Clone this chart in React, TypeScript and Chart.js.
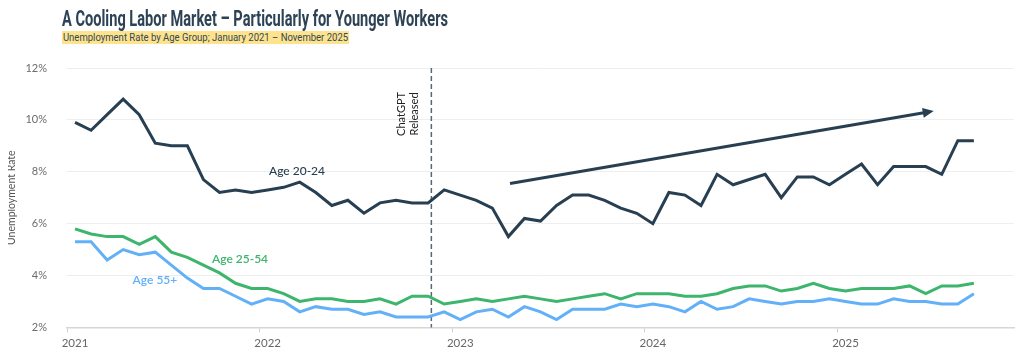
import React, { useEffect, useLayoutEffect, useRef } from 'react';
import { Chart, registerables } from 'chart.js';

Chart.register(...registerables);

// ---------- DATA ----------
const yearLabels = ['2021', '2022', '2023', '2024', '2025'];
const monthNames = ['Jan', 'Feb', 'Mar', 'Apr', 'May', 'Jun', 'Jul', 'Aug', 'Sep', 'Oct', 'Nov', 'Dec'];
// January 2021 – November 2025
const categories = yearLabels.flatMap((y) => monthNames.map((m) => `${m} ${y}`)).slice(0, 59);

const age2024 = [
  9.9, 9.6, 10.2, 10.8, 10.2, 9.1, 9.0, 9.0, 7.7, 7.2,
  7.3, 7.2, 7.3, 7.4, 7.6, 7.2, 6.7, 6.9, 6.4, 6.8,
  6.9, 6.8, 6.8, 7.3, 7.1, 6.9, 6.6, 5.5, 6.2, 6.1,
  6.7, 7.1, 7.1, 6.9, 6.6, 6.4, 6.0, 7.2, 7.1, 6.7,
  7.9, 7.5, 7.7, 7.9, 7.0, 7.8, 7.8, 7.5, 7.9, 8.3,
  7.5, 8.2, 8.2, 8.2, 7.9, 9.2, 9.2,
];
const age2554 = [
  5.8, 5.6, 5.5, 5.5, 5.2, 5.5, 4.9, 4.7, 4.4, 4.1,
  3.7, 3.5, 3.5, 3.3, 3.0, 3.1, 3.1, 3.0, 3.0, 3.1,
  2.9, 3.2, 3.2, 2.9, 3.0, 3.1, 3.0, 3.1, 3.2, 3.1,
  3.0, 3.1, 3.2, 3.3, 3.1, 3.3, 3.3, 3.3, 3.2, 3.2,
  3.3, 3.5, 3.6, 3.6, 3.4, 3.5, 3.7, 3.5, 3.4, 3.5,
  3.5, 3.5, 3.6, 3.3, 3.6, 3.6, 3.7,
];
const age55 = [
  5.3, 5.3, 4.6, 5.0, 4.8, 4.9, 4.4, 3.9, 3.5, 3.5,
  3.2, 2.9, 3.1, 3.0, 2.6, 2.8, 2.7, 2.7, 2.5, 2.6,
  2.4, 2.4, 2.4, 2.6, 2.3, 2.6, 2.7, 2.4, 2.8, 2.6,
  2.3, 2.7, 2.7, 2.7, 2.9, 2.8, 2.9, 2.8, 2.6, 3.0,
  2.7, 2.8, 3.1, 3.0, 2.9, 3.0, 3.0, 3.1, 3.0, 2.9,
  2.9, 3.1, 3.0, 3.0, 2.9, 2.9, 3.3,
];

const yMin = 2;
const yMax = 12;
const yStep = 2;

// annotation anchors (category index / percent)
const chatgptMarkX = 22.2;
const chatgptText = ['ChatGPT', 'Released'];
const chatgptTextAt = { x: 20.75, y: 10.23 };
const trendArrow = { x0: 27.1, y0: 7.55, x1: 53.5, y1: 10.34 };
const seriesNames = ['Age 20-24', 'Age 25-54', 'Age 55+'];
const seriesLabelAt = [
  { x: 13.83, y: 8.04 },
  { x: 10.28, y: 4.65 },
  { x: 4.98, y: 3.81 },
];

// ---------- STYLE ----------
const NAVY = '#283f52';
const GREEN = '#3db56c';
const BLUE = '#62b0f8';
const FONT = "Lato, 'Noto Sans', sans-serif";

const annotationPlugin = {
  id: 'customAnnotations',
  beforeDatasetsDraw(chart: any) {
    const { ctx, chartArea, scales } = chart;
    const px = scales.x.getPixelForValue(chatgptMarkX);
    ctx.save();
    ctx.strokeStyle = '#56687a';
    ctx.lineWidth = 1.5;
    ctx.setLineDash([5, 3]);
    ctx.beginPath();
    ctx.moveTo(px, chartArea.top);
    ctx.lineTo(px, chartArea.bottom);
    ctx.stroke();
    ctx.restore();
  },
  afterDatasetsDraw(chart: any) {
    const { ctx, scales } = chart;
    const x = scales.x;
    const y = scales.y;

    // ChatGPT Released text (rotated)
    ctx.save();
    ctx.translate(x.getPixelForValue(chatgptTextAt.x), y.getPixelForValue(chatgptTextAt.y));
    ctx.rotate(-Math.PI / 2);
    ctx.font = `11px ${FONT}`;
    ctx.fillStyle = '#222';
    ctx.textAlign = 'center';
    ctx.textBaseline = 'middle';
    ctx.fillText(chatgptText[0], 0, -6.5);
    ctx.fillText(chatgptText[1], 0, 6.5);
    ctx.restore();

    // trend arrow
    const ax0 = x.getPixelForValue(trendArrow.x0);
    const ay0 = y.getPixelForValue(trendArrow.y0);
    const ax1 = x.getPixelForValue(trendArrow.x1);
    const ay1 = y.getPixelForValue(trendArrow.y1);
    const ang = Math.atan2(ay1 - ay0, ax1 - ax0);
    const headLen = 11;
    const headHalf = 5;
    const bx = ax1 - headLen * Math.cos(ang);
    const by = ay1 - headLen * Math.sin(ang);
    ctx.save();
    ctx.strokeStyle = NAVY;
    ctx.fillStyle = NAVY;
    ctx.lineWidth = 3;
    ctx.beginPath();
    ctx.moveTo(ax0, ay0);
    ctx.lineTo(bx + 1 * Math.cos(ang), by + 1 * Math.sin(ang));
    ctx.stroke();
    ctx.beginPath();
    ctx.moveTo(ax1, ay1);
    ctx.lineTo(bx + headHalf * Math.sin(ang), by - headHalf * Math.cos(ang));
    ctx.lineTo(bx - headHalf * Math.sin(ang), by + headHalf * Math.cos(ang));
    ctx.closePath();
    ctx.fill();
    ctx.restore();

    // series labels
    const colors = [NAVY, GREEN, BLUE];
    const weights = ['500', '600', '600'];
    ctx.save();
    ctx.textAlign = 'center';
    ctx.textBaseline = 'middle';
    seriesNames.forEach((name, i) => {
      ctx.font = `${weights[i]} 12px ${FONT}`;
      ctx.fillStyle = colors[i];
      ctx.fillText(name, x.getPixelForValue(seriesLabelAt[i].x), y.getPixelForValue(seriesLabelAt[i].y));
    });
    ctx.restore();
  },
};

function FitText({ text, width, style }: { text: string; width: number; style: any }) {
  const ref = useRef<HTMLSpanElement>(null);
  useLayoutEffect(() => {
    const el = ref.current;
    if (!el) return;
    el.style.transform = 'none';
    const w = el.getBoundingClientRect().width;
    if (w > 0) el.style.transform = `scaleX(${width / w})`;
  }, [text, width]);
  return (
    <span
      ref={ref}
      style={{ display: 'inline-block', transformOrigin: 'left top', whiteSpace: 'nowrap', ...style }}
    >
      {text}
    </span>
  );
}

export default function App() {
  const canvasRef = useRef<HTMLCanvasElement>(null);

  useEffect(() => {
    if (!canvasRef.current) return;
    const chart = new Chart(canvasRef.current, {
      type: 'line',
      data: {
        labels: categories,
        datasets: [
          { label: seriesNames[0], data: age2024, borderColor: NAVY, backgroundColor: NAVY, borderWidth: 3, pointRadius: 0, tension: 0 },
          { label: seriesNames[1], data: age2554, borderColor: GREEN, backgroundColor: GREEN, borderWidth: 3, pointRadius: 0, tension: 0 },
          { label: seriesNames[2], data: age55, borderColor: BLUE, backgroundColor: BLUE, borderWidth: 3, pointRadius: 0, tension: 0 },
        ],
      },
      options: {
        animation: false,
        responsive: true,
        maintainAspectRatio: false,
        layout: { padding: { top: 60, right: 2, left: 0, bottom: 0 } },
        plugins: {
          legend: { display: false },
          tooltip: { enabled: false },
        },
        scales: {
          x: {
            type: 'category',
            offset: true,
            afterFit: (scale: any) => {
              scale.height = 21;
            },
            grid: {
              offset: true,
              drawOnChartArea: false,
              drawTicks: true,
              tickLength: 5,
              lineWidth: 1,
              color: (ctx: any) => (ctx.index % 12 === 0 && ctx.index < categories.length ? '#cfcfcf' : 'rgba(0,0,0,0)'),
            },
            border: { display: true, color: '#d6d6d6', width: 1.5 },
            ticks: {
              autoSkip: false,
              maxRotation: 0,
              minRotation: 0,
              padding: 4,
              color: '#666',
              font: { family: FONT, size: 11.5 },
              callback: (_v: any, index: number) => (index % 12 === 0 ? yearLabels[index / 12] : ''),
            },
          },
          y: {
            min: yMin,
            max: yMax,
            afterFit: (scale: any) => {
              scale.width = 59;
            },
            grid: { color: '#eeeeee', drawTicks: false, lineWidth: 1 },
            border: { display: false },
            ticks: {
              stepSize: yStep,
              padding: 20,
              color: '#6b6b6b',
              font: { family: FONT, size: 11 },
              callback: (v: any) => `${v}%`,
            },
            title: {
              display: true,
              text: 'Unemployment Rate',
              color: '#555',
              font: { family: FONT, size: 10.5, lineHeight: 1 },
              padding: { top: -2, bottom: 0 },
            },
          },
        },
      },
      plugins: [annotationPlugin],
    });
    return () => chart.destroy();
  }, []);

  return (
    <div style={{ position: 'relative', width: 1008, height: 346 }}>
      <div style={{ position: 'absolute', left: 0, top: 0, width: 1008, height: 346 }}>
        <canvas ref={canvasRef} />
      </div>
      <div style={{ position: 'absolute', left: 54, top: -1.3, lineHeight: '23px' }}>
        <FitText
          text="A Cooling Labor Market – Particularly for Younger Workers"
          width={386}
          style={{ fontFamily: 'Roboto, sans-serif', fontWeight: 700, fontSize: 22.5, color: '#2c4255', lineHeight: '23px' }}
        />
      </div>
      <div style={{ position: 'absolute', left: 54, top: 21.3, lineHeight: '13px' }}>
        <FitText
          text="Unemployment Rate by Age Group; January 2021 – November 2025"
          width={287}
          style={{
            fontFamily: 'Roboto, sans-serif',
            fontSize: 10.5,
            color: '#34485a',
            lineHeight: '13px',
            background: '#fde38c',
            padding: '0 1px',
          }}
        />
      </div>
    </div>
  );
}
